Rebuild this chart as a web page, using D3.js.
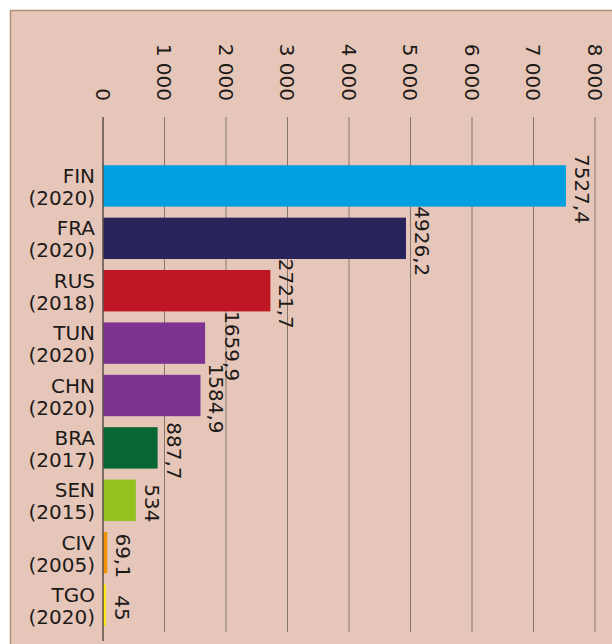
<!DOCTYPE html>
<html>
<head>
<meta charset="utf-8">
<script src="https://cdn.jsdelivr.net/npm/d3@7"></script>
<style>
  body { margin: 0; background: #fff; }
  text { font-family: "DejaVu Sans", sans-serif; fill: #1e1a18; }
</style>
</head>
<body>
<div id="chart"></div>
<script>
const countries = ["FIN", "FRA", "RUS", "TUN", "CHN", "BRA", "SEN", "CIV", "TGO"];
const years = ["2020", "2020", "2018", "2020", "2020", "2017", "2015", "2005", "2020"];
const values = [7527.4, 4926.2, 2721.7, 1659.9, 1584.9, 887.7, 534, 69.1, 45];
const colors = ["#009fe0", "#29235c", "#be1622", "#7f3390", "#7f3390", "#076633", "#95c11f", "#f39200", "#ffed00"];
const tickValues = [0, 1000, 2000, 3000, 4000, 5000, 6000, 7000, 8000];

const data = countries.map((c, i) => ({
  name: c, year: years[i], value: values[i], color: colors[i]
}));

const W = 612, H = 644;
const fontSize = 20;
const svg = d3.select("#chart").append("svg")
  .attr("width", W).attr("height", H);

// panel
svg.append("rect")
  .attr("x", 10.5).attr("y", 10.5)
  .attr("width", W).attr("height", H)
  .attr("fill", "#e5c6b8")
  .attr("stroke", "#b38c76")
  .attr("stroke-width", 1.5);

const x = d3.scaleLinear().domain([0, 8000]).range([103, 595]);
const y = d3.scaleBand()
  .domain(countries)
  .range([160, 631])
  .paddingInner(0.21)
  .paddingOuter(0.1);

const fmt = v => String(v).replace(".", ",");

// gridlines
svg.append("g")
  .selectAll("line")
  .data(tickValues.filter(d => d > 0))
  .join("line")
  .attr("x1", d => x(d)).attr("x2", d => x(d))
  .attr("y1", 117).attr("y2", 632)
  .attr("stroke", "#85766c")
  .attr("stroke-width", 1);

// tick labels (rotated)
svg.append("g")
  .selectAll("text")
  .data(tickValues)
  .join("text")
  .attr("transform", d => `translate(${x(d)},101) rotate(90)`)
  .attr("text-anchor", "end")
  .attr("dy", "0.36em")
  .style("font-size", fontSize + "px")
  .text(d => d === 0 ? "0" : d3.format(",")(d).replace(",", " "));

// bars
svg.append("g")
  .selectAll("rect")
  .data(data)
  .join("rect")
  .attr("x", x(0))
  .attr("y", d => y(d.name))
  .attr("width", d => x(d.value) - x(0))
  .attr("height", y.bandwidth())
  .attr("fill", d => d.color);

// zero axis
svg.append("line")
  .attr("x1", x(0)).attr("x2", x(0))
  .attr("y1", 117).attr("y2", 641)
  .attr("stroke", "#5a4f4a")
  .attr("stroke-width", 1.5);

// value labels: rotated, nudged right when they would collide
const labels = svg.append("g")
  .selectAll("text")
  .data(data)
  .join("text")
  .attr("text-anchor", "middle")
  .style("font-size", fontSize + "px")
  .text(d => fmt(d.value));

const boxes = [];
labels.each(function (d) {
  const len = this.getComputedTextLength();
  const cy = y(d.name) + y.bandwidth() / 2 + 3;
  boxes.push({ bx: x(d.value) + 9, y0: cy - len / 2, y1: cy + len / 2, cy });
});
for (let i = boxes.length - 2; i >= 0; i--) {
  const a = boxes[i], b = boxes[i + 1];
  const overlapY = a.y1 > b.y0 && b.y1 > a.y0;
  if (overlapY && Math.abs(a.bx - b.bx) < 16) a.bx = b.bx + 16;
}
labels.attr("transform", (d, i) => `translate(${boxes[i].bx},${boxes[i].cy}) rotate(90)`);

// category labels
const cat = svg.append("g")
  .selectAll("text")
  .data(data)
  .join("text")
  .attr("text-anchor", "end")
  .style("font-size", fontSize + "px");

cat.append("tspan")
  .attr("x", 95)
  .attr("y", d => y(d.name) + y.bandwidth() / 2 - 3)
  .text(d => d.name);

cat.append("tspan")
  .attr("x", 95)
  .attr("y", d => y(d.name) + y.bandwidth() / 2 + 19)
  .text(d => `(${d.year})`);
</script>
</body>
</html>
